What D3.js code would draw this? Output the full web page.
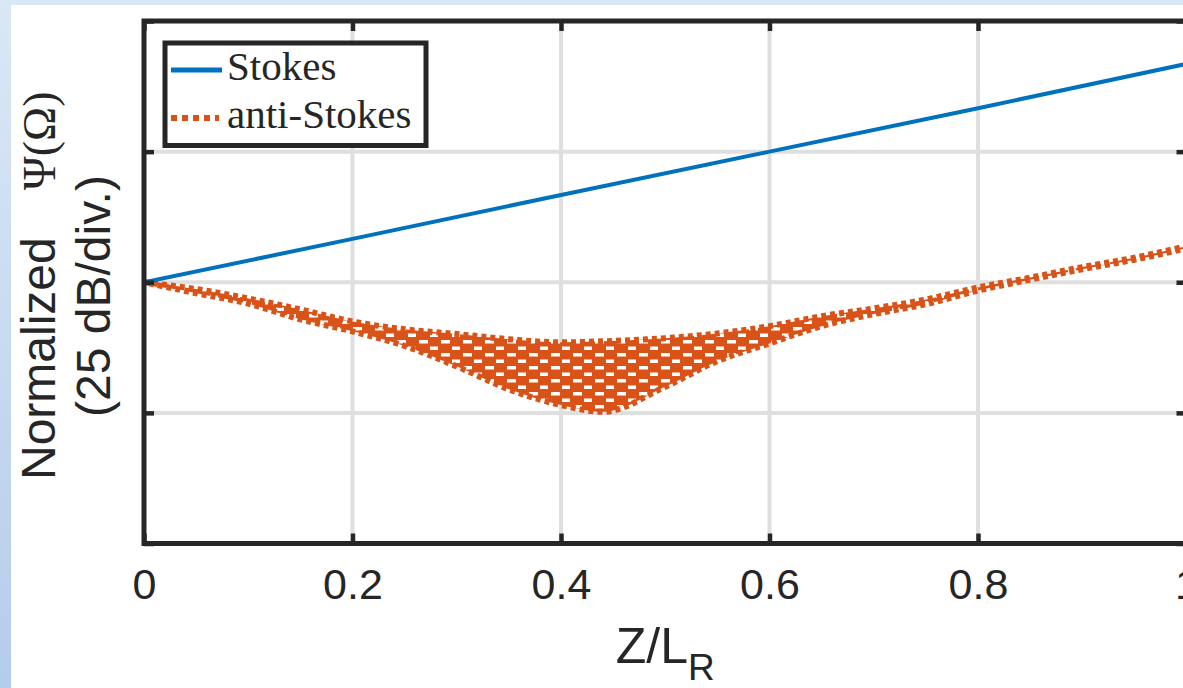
<!DOCTYPE html>
<html>
<head>
<meta charset="utf-8">
<script src="https://cdn.jsdelivr.net/npm/d3@7"></script>
<style>
  html, body { margin: 0; padding: 0; background: #fff; }
  svg { display: block; }
</style>
</head>
<body>
<svg id="chart" width="1183" height="688"></svg>
<script>

// Data
// ==============================================

var zStokes = [0, 0.2, 0.4, 0.6, 0.8, 1];
var stokesDb = [0, 8.3, 16.7, 25, 33.3, 41.8];

// anti-Stokes oscillates fast; kept as its upper / lower envelope (dB)
var zAnti =      [0, 0.05, 0.1, 0.15, 0.2, 0.25, 0.3, 0.35, 0.4, 0.44, 0.5, 0.55, 0.6, 0.65, 0.7, 0.75, 0.8, 0.85, 0.9, 0.95, 1];
var antiTopDb =  [0, -1.3, -3.1, -5.2, -7.5, -9.0, -9.9, -10.9, -11.5, -11.3, -10.7, -9.8, -8.4, -6.5, -5.0, -3.3, -1.0, 0.9, 2.9, 4.7, 6.9];
var antiBotDb =  [0, -2.1, -4.1, -7.1, -9.4, -12.2, -16.1, -20.5, -23.5, -24.8, -20.0, -15.1, -11.7, -8.4, -6.1, -4.2, -1.6, 0.5, 2.5, 4.3, 6.5];

var xTicks = [0, 0.2, 0.4, 0.6, 0.8, 1];
var xTickLabels = ['0', '0.2', '0.4', '0.6', '0.8', '1'];
var yTicks = [-50, -25, 0, 25, 50];

var seriesNames = ['Stokes', 'anti-Stokes'];
var seriesColors = ['#0072BD', '#D95319'];

// Layout
// ==============================================

var W = 1183, H = 688;
var plotL = 144, plotR = 1186.5, plotT = 21, plotB = 543.5;
var ink = '#262626', gridColor = '#dfdfdf';
var sans = '"Liberation Sans", Arial, sans-serif';
var serif = '"Liberation Serif", "Times New Roman", serif';

var svg = d3.select('#chart');

var x = d3.scaleLinear().domain([0, 1]).range([plotL, plotR]);
var y = d3.scaleLinear().domain([-50, 50]).range([plotB, plotT]);

// Page background
// ==============================================

var defs = svg.append('defs');

var bg = defs.append('linearGradient')
	.attr('id', 'bg-grad')
	.attr('x1', 0).attr('y1', 0).attr('x2', 0).attr('y2', 1);
bg.append('stop').attr('offset', '0%').attr('stop-color', '#dae8f5');
bg.append('stop').attr('offset', '100%').attr('stop-color', '#b4cdeb');

svg.append('rect')
	.attr('width', W).attr('height', H)
	.attr('fill', 'url(#bg-grad)');

svg.append('rect')
	.attr('x', 11).attr('y', 5)
	.attr('width', W - 11).attr('height', H - 5)
	.attr('fill', '#fff');

defs.append('clipPath')
	.attr('id', 'plot-clip')
	.append('rect')
		.attr('x', plotL).attr('y', plotT)
		.attr('width', plotR - plotL).attr('height', plotB - plotT);

// texture used inside the dense anti-Stokes band
var pat = defs.append('pattern')
	.attr('id', 'mesh')
	.attr('patternUnits', 'userSpaceOnUse')
	.attr('width', 22).attr('height', 13);
pat.append('rect').attr('width', 22).attr('height', 13).attr('fill', seriesColors[1]);
pat.append('rect').attr('x', 1).attr('y', 2).attr('width', 9).attr('height', 3.5).attr('fill', '#fff');
pat.append('rect').attr('x', 12).attr('y', 8.5).attr('width', 8).attr('height', 3.5).attr('fill', '#fff');

// Grid
// ==============================================

var grid = svg.append('g').attr('class', 'grid')
	.attr('stroke', gridColor).attr('stroke-width', 4);

grid.selectAll('line.gx')
	.data(xTicks)
	.enter().append('line')
		.attr('class', 'gx')
		.attr('x1', function(d){ return x(d); })
		.attr('x2', function(d){ return x(d); })
		.attr('y1', plotT).attr('y2', plotB);

grid.selectAll('line.gy')
	.data(yTicks)
	.enter().append('line')
		.attr('class', 'gy')
		.attr('y1', function(d){ return y(d); })
		.attr('y2', function(d){ return y(d); })
		.attr('x1', plotL).attr('x2', plotR);

// Series
// ==============================================

var plot = svg.append('g').attr('clip-path', 'url(#plot-clip)');

var band = d3.area()
	.x(function(d, i){ return x(zAnti[i]); })
	.y0(function(d, i){ return y(antiBotDb[i]); })
	.y1(function(d, i){ return y(antiTopDb[i]); })
	.curve(d3.curveMonotoneX);

plot.append('path')
	.datum(zAnti)
	.attr('d', band)
	.attr('fill', 'url(#mesh)');

var edge = function(values){
	return d3.line()
		.x(function(d, i){ return x(zAnti[i]); })
		.y(function(d, i){ return y(values[i]); })
		.curve(d3.curveMonotoneX);
};

[antiTopDb, antiBotDb].forEach(function(values, k){
	plot.append('path')
		.datum(values)
		.attr('d', edge(values))
		.attr('fill', 'none')
		.attr('stroke', seriesColors[1])
		.attr('stroke-width', 6)
		.attr('stroke-dasharray', '5 4')
		.attr('stroke-dashoffset', k * 4);
});

var stokesLine = d3.line()
	.x(function(d, i){ return x(zStokes[i]); })
	.y(function(d){ return y(d); });

plot.append('path')
	.datum(stokesDb)
	.attr('d', stokesLine)
	.attr('fill', 'none')
	.attr('stroke', seriesColors[0])
	.attr('stroke-width', 4);

// Axes (ticks inside, box on)
// ==============================================

var styleAxis = function(g){
	g.select('.domain').remove();
	g.selectAll('.tick line').attr('stroke', ink).attr('stroke-width', 4.5);
	g.selectAll('.tick text')
		.attr('fill', ink)
		.style('font-family', sans)
		.style('font-size', '43px');
};

svg.append('g')
	.attr('transform', 'translate(0,' + plotB + ')')
	.call(d3.axisBottom(x).tickValues(xTicks)
		.tickFormat(function(d, i){ return xTickLabels[i]; })
		.tickSize(-10).tickPadding(25))
	.call(styleAxis);

svg.append('g')
	.attr('transform', 'translate(0,' + plotT + ')')
	.call(d3.axisTop(x).tickValues(xTicks).tickFormat('').tickSize(-10))
	.call(styleAxis);

svg.append('g')
	.attr('transform', 'translate(' + plotL + ',0)')
	.call(d3.axisLeft(y).tickValues(yTicks).tickFormat('').tickSize(-10))
	.call(styleAxis);

svg.append('g')
	.attr('transform', 'translate(' + plotR + ',0)')
	.call(d3.axisRight(y).tickValues(yTicks).tickFormat('').tickSize(-10))
	.call(styleAxis);

svg.append('rect')
	.attr('x', plotL).attr('y', plotT)
	.attr('width', plotR - plotL).attr('height', plotB - plotT)
	.attr('fill', 'none')
	.attr('stroke', ink)
	.attr('stroke-width', 5);

// Axis labels
// ==============================================

var xl = svg.append('text')
	.attr('x', x(0.5)).attr('y', 663)
	.attr('text-anchor', 'middle')
	.attr('fill', ink)
	.style('font-family', sans);
xl.append('tspan').style('font-size', '50px').text('Z/L');
xl.append('tspan').attr('dy', 17).style('font-size', '37px').text('R');

var yl = svg.append('text')
	.attr('transform', 'translate(55,480) rotate(-90)')
	.attr('fill', ink);
yl.append('tspan').style('font-family', sans).style('font-size', '48px').text('Normalized');
yl.append('tspan').attr('dx', 47).style('font-family', serif).style('font-size', '46px').text('Ψ(Ω)');

svg.append('text')
	.attr('transform', 'translate(110,296) rotate(-90)')
	.attr('text-anchor', 'middle')
	.attr('fill', ink)
	.style('font-family', sans)
	.style('font-size', '48px')
	.text('(25 dB/div.)');

// Legend
// ==============================================

var legend = svg.append('g').attr('class', 'legend');

legend.append('rect')
	.attr('x', 165).attr('y', 43)
	.attr('width', 261).attr('height', 102.5)
	.attr('fill', '#fff')
	.attr('stroke', ink)
	.attr('stroke-width', 5);

var entry = legend.selectAll('g.entry')
	.data(seriesNames)
	.enter().append('g')
		.attr('class', 'entry')
		.attr('transform', function(d, i){ return 'translate(0,' + (70 + i * 48) + ')'; });

entry.append('line')
	.attr('x1', 171).attr('x2', function(d, i){ return i ? 219 : 222; })
	.attr('stroke', function(d, i){ return seriesColors[i]; })
	.attr('stroke-width', function(d, i){ return i ? 6 : 5; })
	.attr('stroke-dasharray', function(d, i){ return i ? '6 5' : null; });

entry.append('text')
	.attr('x', 227).attr('y', 10)
	.attr('fill', ink)
	.style('font-family', serif)
	.style('font-size', '41px')
	.text(function(d){ return d; });

</script>
</body>
</html>
